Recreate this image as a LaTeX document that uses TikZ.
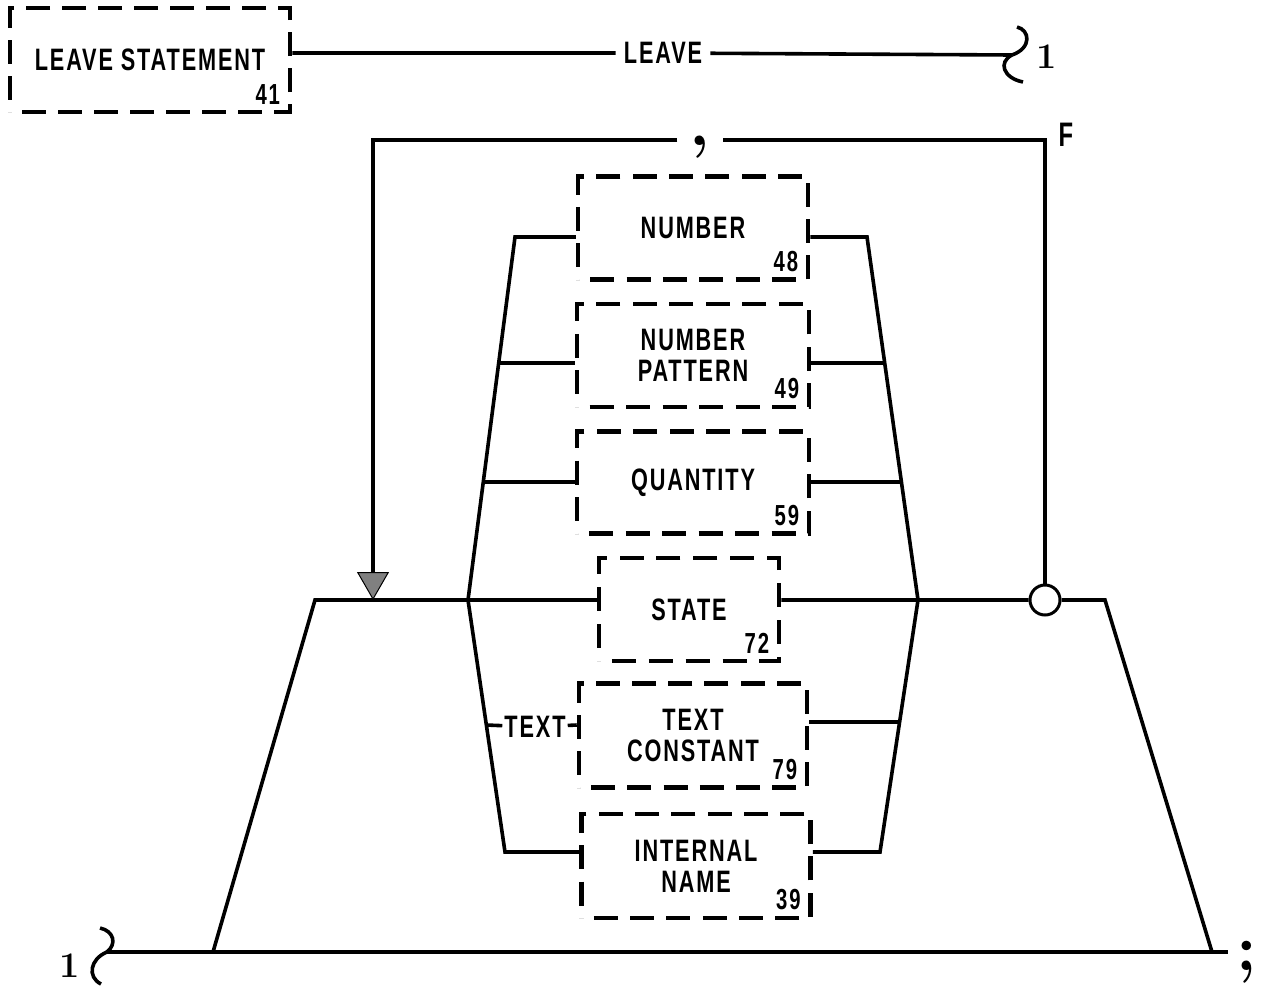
\documentclass[tikz,border=0pt]{standalone}
\usepackage{fontspec}
\newfontfamily\chartfont[FakeStretch=0.7,LetterSpace=6]{Liberation Sans Bold}
\usetikzlibrary{arrows.meta,positioning,decorations}

\begin{document}
\begin{tikzpicture}[x=1pt,y=-1pt,node distance=20pt,
    bx/.style={draw,line width=4.5pt,dash pattern=on 24pt off 11pt,dash expand off,align=center,inner sep=0pt,font=\chartfont\fontsize{31}{31}\selectfont},
    nr/.style={font=\chartfont\fontsize{29}{29}\selectfont,inner sep=0pt,anchor=south east,xshift=-12pt,yshift=10pt},
    kw/.style={font=\chartfont\fontsize{31}{31}\selectfont,fill=white,inner sep=8pt},
    sym/.style={font=\bfseries\fontsize{36}{36}\selectfont,inner sep=0pt},
    ln/.style={line width=3.6pt}]
    \useasboundingbox (0,0) rectangle (1263,985);
    % leave statement
    \node[bx,minimum width=280pt,minimum height=104pt,label={[nr]south east:41}] (leave) at (150,60) {LEAVE STATEMENT};
    \node[kw] (leavekw) at (663,53) {LEAVE};
    \coordinate (c1) at (1012,55);
    \node[sym] (one1) at (1047,57) {1};
    \draw[ln] (leave.east |- leavekw) -- (leavekw) -- (c1);
    \draw[ln] (c1) .. controls (1032,48) and (1030,30) .. (1017,27);
    \draw[ln] (c1) .. controls (998,62) and (1003,78) .. (1023,82);
    % alternatives
    \node[bx,minimum width=230pt,minimum height=103pt,label={[nr]south east:48}] (num) at (693,228) {NUMBER};
    \node[bx,minimum width=232pt,minimum height=103pt,below=of num,label={[nr]south east:49}] (pat) {NUMBER\\PATTERN};
    \node[bx,minimum width=232pt,minimum height=102pt,below=of pat,label={[nr]south east:59}] (qty) {QUANTITY};
    \node[bx,minimum width=180pt,minimum height=103pt,below=of qty,xshift=-4pt,label={[nr]south east:72}] (state) {STATE};
    \node[bx,minimum width=228pt,minimum height=104pt,below=18pt of state,xshift=4pt,label={[nr]south east:79}] (tcon) {TEXT\\CONSTANT};
    \node[bx,minimum width=229pt,minimum height=104pt,below=22pt of tcon,xshift=3pt,label={[nr]south east:39}] (iname) {INTERNAL\\NAME};
    % rails
    \coordinate (l1) at (515,237);
    \coordinate (l2) at (499,363);
    \coordinate (l3) at (483,482);
    \coordinate (l4) at (468,600);
    \coordinate (l5) at (486,725);
    \coordinate (l6) at (505,852);
    \coordinate (r1) at (867,237);
    \coordinate (r2) at (885,363);
    \coordinate (r3) at (901,482);
    \coordinate (r4) at (918,600);
    \coordinate (r5) at (900,722);
    \coordinate (r6) at (880,852);
    \draw[ln] (num.west |- l1) -- (l1) -- (l4) -- (l6) -- (iname.west |- l6);
    \draw[ln] (num.east |- r1) -- (r1) -- (r4) -- (r6) -- (iname.east |- r6);
    \draw[ln] (l2) -- (l2 -| pat.west);
    \draw[ln] (l3) -- (l3 -| qty.west);
    \draw[ln] (r2) -- (r2 -| pat.east);
    \draw[ln] (r3) -- (r3 -| qty.east);
    \draw[ln] (r5) -- (r5 -| tcon.east);
    \node[kw,inner sep=2pt] (textkw) at (535,727) {TEXT};
    \draw[ln] (l5) -- (textkw) -- (l5 -| tcon.west);
    % main line
    \coordinate (lc) at (315,600);
    \coordinate (rc) at (1105,600);
    \coordinate (bl) at (213,952);
    \coordinate (br) at (1212,952);
    \coordinate (c2) at (107,952);
    \coordinate (endr) at (1228,952);
    \node[circle,draw,line width=3pt,fill=white,minimum size=30pt,inner sep=0pt] (loop) at (1045,600) {};
    \draw[ln] (c2) -- (endr);
    \draw[ln] (c2) .. controls (117,944) and (114,931) .. (100,928);
    \draw[ln] (c2) .. controls (90,959) and (87,977) .. (101,984);
    \node[sym] (one2) at (70,966) {1};
    \node[sym,font=\bfseries\fontsize{66}{66}\selectfont] (semi) at (1247,962) {;};
    \draw[ln] (bl) -- (lc) -- (l4) -- (l4 -| state.west);
    \draw[ln] (l4 -| state.east) -- (r4) -- (loop) -- (rc) -- (br);
    % repeat loop
    \coordinate (fr) at (1045,140);
    \coordinate (fl) at (373,140);
    \node[sym,font=\bfseries\fontsize{66}{66}\selectfont,inner sep=12pt] (sep) at (700,147) {,};
    \node[font=\chartfont\fontsize{34}{34}\selectfont] (flab) at (1066,135) {F};
    \draw[ln] (loop) -- (fr) -- (sep.east |- fr);
    \draw[ln,-{Triangle[length=28pt,width=32pt,fill=gray,line width=1pt]}] (sep.west |- fl) -- (fl) -- (fl |- lc);
\end{tikzpicture}
\end{document}
